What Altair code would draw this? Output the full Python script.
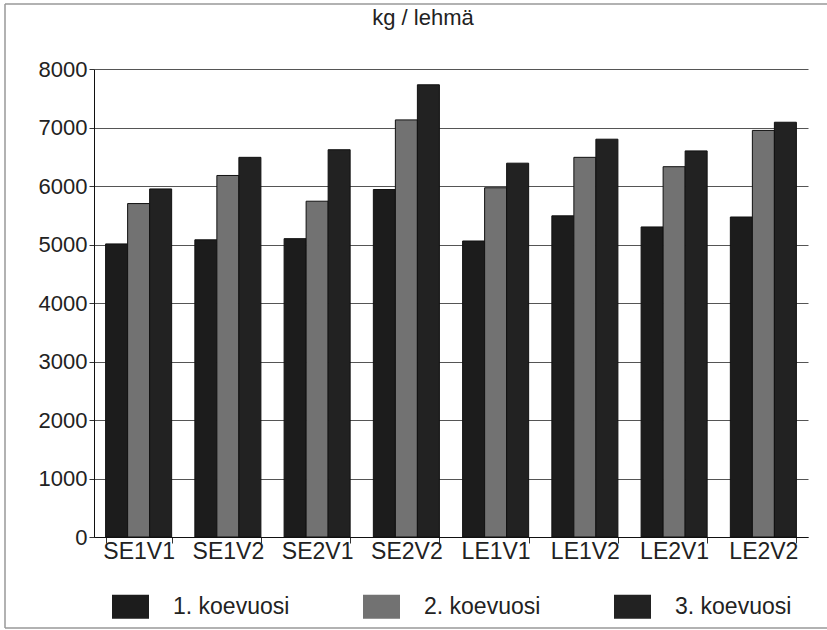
import altair as alt
import pandas as pd

# Milk yield per cow (kg) by trial group and trial year
groups = ["SE1V1", "SE1V2", "SE2V1", "SE2V2", "LE1V1", "LE1V2", "LE2V1", "LE2V2"]
series = ["1. koevuosi", "2. koevuosi", "3. koevuosi"]
year1 = [5010, 5080, 5100, 5940, 5060, 5490, 5300, 5470]
year2 = [5700, 6180, 5740, 7130, 5970, 6490, 6330, 6950]
year3 = [5950, 6490, 6620, 7730, 6390, 6800, 6600, 7090]
y_ticks = [0, 1000, 2000, 3000, 4000, 5000, 6000, 7000, 8000]

rows = []
for name, values in zip(series, [year1, year2, year3]):
    for g, v in zip(groups, values):
        rows.append({"ryhma": g, "vuosi": name, "kg": v})
df = pd.DataFrame(rows)

FONT = "Liberation Sans"
TEXT = "#222222"

# wide rectangular legend swatch
swatch = "M-1,-0.65L1,-0.65L1,0.65L-1,0.65Z"

bars = alt.Chart(df).mark_bar(stroke="#111111", strokeWidth=1).encode(
    x=alt.X(
        "ryhma:N",
        sort=groups,
        scale=alt.Scale(paddingInner=0.26, paddingOuter=0.13),
        axis=alt.Axis(
            title=None,
            labelAngle=0,
            labelFontSize=23,
            labelFont=FONT,
            labelColor=TEXT,
            tickBand="extent",
            tickSize=6,
            tickColor="#333333",
            labelPadding=-3,
            domainColor="#111111",
            grid=False,
        ),
    ),
    xOffset=alt.XOffset("vuosi:N", sort=series, scale=alt.Scale(paddingInner=0, paddingOuter=0)),
    y=alt.Y(
        "kg:Q",
        scale=alt.Scale(domain=[0, 8000], nice=False),
        axis=alt.Axis(
            title=None,
            values=y_ticks,
            format="d",
            labelFontSize=22,
            labelFont=FONT,
            labelColor=TEXT,
            labelPadding=2,
            tickSize=5,
            tickColor="#333333",
            domainColor="#111111",
            gridColor="#555555",
            gridWidth=1,
        ),
    ),
    fill=alt.Fill(
        "vuosi:N",
        sort=series,
        scale=alt.Scale(domain=series, range=["#1c1c1c", "#727272", "#222222"]),
        legend=alt.Legend(
            title=None,
            orient="none",
            legendX=18,
            legendY=519,
            direction="horizontal",
            columns=3,
            symbolType=swatch,
            symbolSize=1369,
            symbolStrokeWidth=0,
            labelFontSize=23,
            labelFont=FONT,
            labelColor=TEXT,
            labelOffset=24,
            columnPadding=73,
        ),
    ),
)

# thin frame around the figure (left, top, bottom edges)
frame_data = alt.Data(values=[{}])
frame_left = alt.Chart(frame_data).mark_rule(color="#999999", strokeWidth=1.5).encode(
    x=alt.value(-89), y=alt.value(-65), y2=alt.value(559)
)
frame_top = alt.Chart(frame_data).mark_rule(color="#999999", strokeWidth=1.5).encode(
    x=alt.value(-89), x2=alt.value(733), y=alt.value(-65)
)
frame_bottom = alt.Chart(frame_data).mark_rule(color="#999999", strokeWidth=1.5).encode(
    x=alt.value(-89), x2=alt.value(733), y=alt.value(559)
)

chart = (
    alt.layer(bars, frame_left, frame_top, frame_bottom)
    .properties(
        width=714,
        height=468,
        autosize=alt.AutoSizeParams(type="none"),
        padding={"left": 94, "top": 69, "right": 19, "bottom": 93},
        background="white",
        title=alt.TitleParams(
            text="kg / lehmä",
            font=FONT,
            fontSize=22,
            fontWeight="normal",
            color=TEXT,
            anchor="middle",
            baseline="alphabetic",
            offset=0,
            dy=44,
            dx=-28,
        ),
    )
    .configure_view(strokeWidth=0)
)

chart.save("out.html", embed_options={"renderer": "svg", "actions": False})
